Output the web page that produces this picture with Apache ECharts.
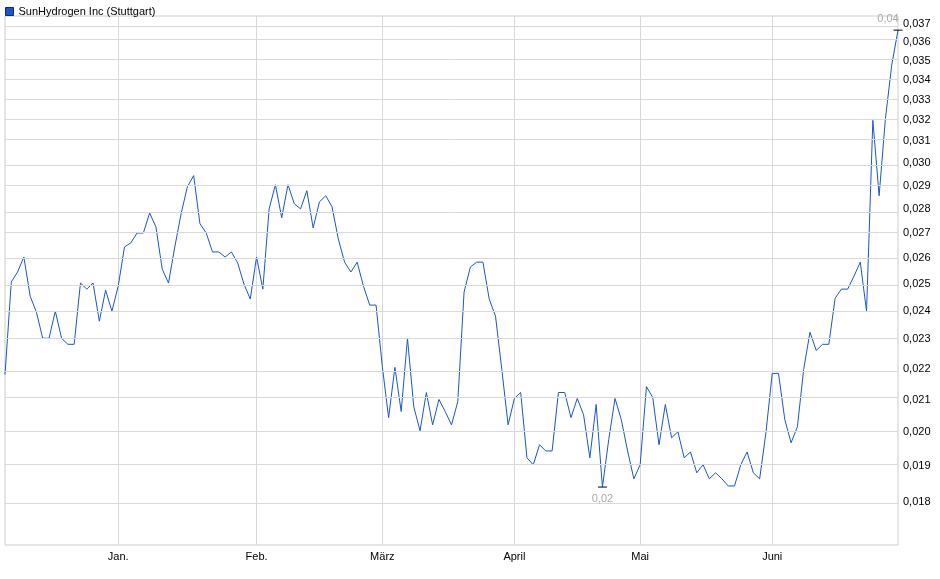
<!DOCTYPE html>
<html><head><meta charset="utf-8">
<script src="https://cdn.jsdelivr.net/npm/echarts@6/dist/echarts.min.js"></script>
<style>html,body{margin:0;padding:0;background:#fff}#c{width:940px;height:579px}</style>
</head><body><div id="c"></div>
<script>
const prices = [
0.02181,0.02508,0.02546,0.02604,0.02455,0.02396,0.02304,0.02304,0.02400,0.02304,
0.02283,0.02283,0.02504,0.02481,0.02504,0.02364,0.02477,0.02400,0.02492,0.02644,
0.02660,0.02700,0.02700,0.02783,0.02725,0.02557,0.02504,0.02644,0.02779,0.02895,
0.02944,0.02738,0.02700,0.02624,0.02624,0.02604,0.02624,0.02581,0.02500,0.02444,
0.02604,0.02481,0.02800,0.02904,0.02763,0.02904,0.02822,0.02800,0.02878,0.02721,
0.02830,0.02856,0.02809,0.02676,0.02584,0.02546,0.02584,0.02492,0.02422,0.02422,
0.02208,0.02044,0.02205,0.02063,0.02304,0.02078,0.02004,0.02123,0.02022,0.02101,
0.02063,0.02022,0.02094,0.02470,0.02565,0.02584,0.02584,0.02444,0.02382,0.02198,
0.02022,0.02104,0.02123,0.01924,0.01904,0.01962,0.01944,0.01944,0.02123,0.02123,
0.02044,0.02104,0.02053,0.01924,0.02085,0.01841,0.01977,0.02104,0.02038,0.01944,
0.01864,0.01904,0.02142,0.02107,0.01962,0.02085,0.01983,0.02001,0.01924,0.01941,
0.01881,0.01904,0.01864,0.01881,0.01864,0.01844,0.01844,0.01904,0.01941,0.01881,
0.01864,0.01998,0.02185,0.02185,0.02038,0.01968,0.02016,0.02198,0.02325,0.02262,
0.02283,0.02283,0.02447,0.02481,0.02481,0.02530,0.02584,0.02400,0.03200,0.02856,
0.03209,0.03477,0.03666
];
const monthTicks = [18,40,60,81,101,122];
const monthLabels = ['Jan.','Feb.','März','April','Mai','Juni'];
const yTicks = [0.018,0.019,0.020,0.021,0.022,0.023,0.024,0.025,0.026,0.027,0.028,0.029,0.030,0.031,0.032,0.033,0.034,0.035,0.036,0.037];
const yMin = 0.01687, yMax = 0.03745;
const maxLabel = '0,04', minLabel = '0,02';

const categories = prices.map((_, i) => String(i));
const L = Math.log;
const lineColor = '#1a56c8';
const isTick = (i) => monthTicks.indexOf(i) >= 0;

const chart = echarts.init(document.getElementById('c'));
chart.setOption({
  animation: false,
  textStyle: {fontFamily: 'Liberation Sans, Arial, sans-serif'},
  legend: {
    left: 0, top: 1, itemWidth: 8, itemHeight: 8, itemGap: 4,
    icon: 'rect',
    textStyle: {fontSize: 11, color: '#000', fontFamily: 'Liberation Sans'},
    data: [{name: 'SunHydrogen Inc (Stuttgart)', itemStyle: {color: lineColor, borderColor: '#0b2a66', borderWidth: 1}}]
  },
  grid: {left: 5, right: 42, top: 16, bottom: 34, show: true, borderColor: '#cccccc', borderWidth: 1},
  xAxis: {
    type: 'category', data: categories, boundaryGap: false,
    axisLine: {show: false}, axisTick: {show: false},
    axisLabel: {
      interval: (i) => isTick(i),
      formatter: (v, i) => { const k = monthTicks.indexOf(Number(v)); return k >= 0 ? monthLabels[k] : ''; },
      fontSize: 11, color: '#000', margin: 6
    },
    splitLine: {show: true, interval: (i) => isTick(i), lineStyle: {color: '#d9d9d9', width: 1}}
  },
  yAxis: {
    type: 'value', position: 'right', min: L(yMin), max: L(yMax), scale: true,
    axisLine: {show: false}, axisTick: {show: false}, splitLine: {show: false},
    axisLabel: {
      customValues: yTicks.map(L),
      formatter: (v) => Math.exp(v).toFixed(3).replace('.', ','),
      fontSize: 11, color: '#000', margin: 5
    }
  },
  series: [{
    name: 'SunHydrogen Inc (Stuttgart)', type: 'line',
    data: prices.map(L), showSymbol: false, symbol: 'none',
    lineStyle: {color: lineColor, width: 1}, itemStyle: {color: lineColor},
    markLine: {
      silent: true, symbol: ['none', 'none'], label: {show: false},
      lineStyle: {color: '#d9d9d9', type: 'solid', width: 1},
      data: yTicks.map(t => ({yAxis: L(t)}))
    },
    markPoint: {
      silent: true, symbol: 'rect', symbolSize: [9, 1],
      itemStyle: {color: '#000'},
      data: [
        {type: 'max', label: {show: true, formatter: maxLabel, position: 'top', offset: [-10, 0], color: '#aaa', fontSize: 11}},
        {type: 'min', label: {show: true, formatter: minLabel, position: 'bottom', offset: [0, 1], color: '#aaa', fontSize: 11}}
      ]
    }
  }]
});
</script></body></html>
